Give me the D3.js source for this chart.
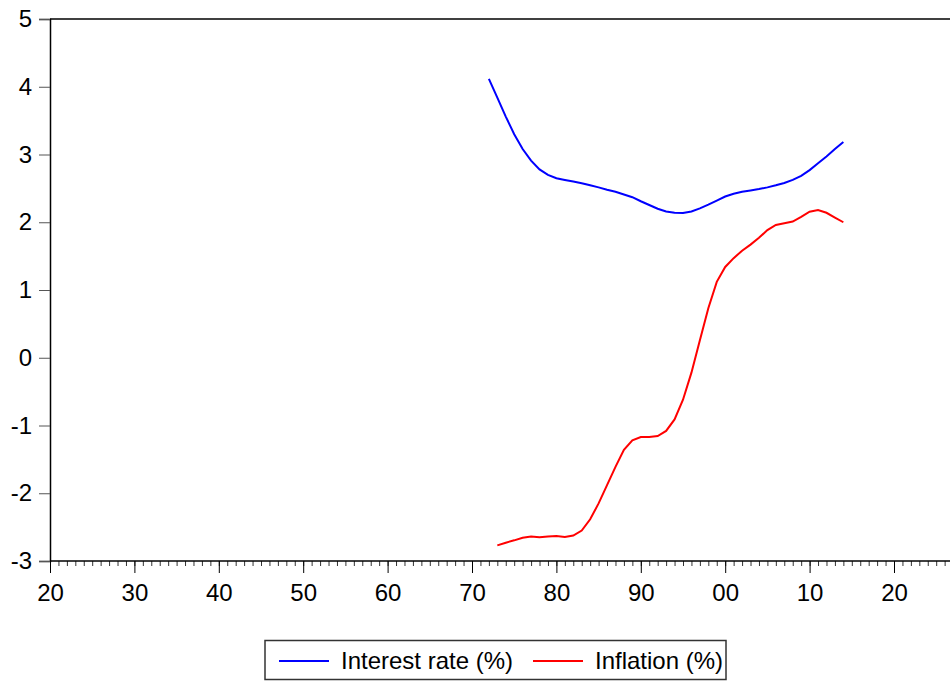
<!DOCTYPE html>
<html><head><meta charset="utf-8">
<script src="https://cdn.jsdelivr.net/npm/d3@7"></script>
<style>body{margin:0;background:#fff}svg{display:block}text{font-family:"Liberation Sans",Arial,sans-serif}</style>
</head><body>
<script>
const rateYears = d3.range(1972, 2015);
const rateValues = [4.115,3.84,3.56,3.30,3.08,2.91,2.78,2.70,2.65,2.625,2.60,2.575,2.545,2.515,2.48,2.45,2.41,2.37,2.31,2.255,2.20,2.16,2.14,2.135,2.16,2.205,2.26,2.32,2.38,2.42,2.45,2.47,2.49,2.515,2.545,2.58,2.625,2.685,2.77,2.87,2.97,3.08,3.185];
const inflYears = d3.range(1973, 2015);
const inflValues = [-2.77,-2.73,-2.695,-2.656,-2.64,-2.65,-2.64,-2.63,-2.645,-2.625,-2.55,-2.385,-2.15,-1.88,-1.61,-1.36,-1.22,-1.17,-1.17,-1.155,-1.08,-0.91,-0.62,-0.22,0.26,0.73,1.12,1.34,1.47,1.58,1.67,1.77,1.885,1.96,1.985,2.01,2.08,2.155,2.18,2.14,2.07,2.0];
const yTicks = [-3,-2,-1,0,1,2,3,4,5];
const xTicks = [1920,1930,1940,1950,1960,1970,1980,1990,2000,2010,2020];
const seriesNames = ["Interest rate (%)","Inflation (%)"];
const seriesColors = ["#0000ff","#ff0000"];

const W=950,H=682;
const L=50,T=19,B=561,R=950;
const svg=d3.select("body").append("svg").attr("width",W).attr("height",H);
const x=d3.scaleLinear().domain([1920,1920+(R-L)/8.44]).range([L,R]);
const y=d3.scaleLinear().domain([-3,5]).range([B,T]);

// frame
svg.append("line").attr("x1",L).attr("x2",R).attr("y1",T).attr("y2",T).attr("stroke","#000").attr("stroke-width",1.5);

// y axis
const ya=svg.append("g").attr("transform",`translate(${L},0)`).call(d3.axisLeft(y).tickValues(yTicks).tickSize(11).tickPadding(7).tickFormat(d=>String(d)));
ya.select(".domain").attr("stroke","#000").attr("stroke-width",1.5);
ya.selectAll(".tick line").attr("stroke","#555");
ya.selectAll("text").attr("font-size",24).attr("fill","#000").attr("font-family","Liberation Sans, Arial, sans-serif");

// x axis minor
const minor=d3.range(1920,2027);
const xm=svg.append("g").attr("transform",`translate(0,${B})`).call(d3.axisBottom(x).tickValues(minor).tickSize(5).tickFormat(""));
xm.select(".domain").remove();
xm.selectAll(".tick line").attr("stroke","#333");
const xa=svg.append("g").attr("transform",`translate(0,${B})`).call(d3.axisBottom(x).tickValues(xTicks).tickSize(12).tickPadding(11).tickFormat(d=>d3.format("02d")(d%100)));
xa.select(".domain").attr("stroke","#000").attr("stroke-width",1.5).attr("d",`M${L},0H${R}`);
xa.selectAll(".tick line").attr("stroke","#000");
xa.selectAll("text").attr("font-size",24).attr("fill","#000").attr("font-family","Liberation Sans, Arial, sans-serif");

// lines
const line=d3.line().x(d=>x(d[0])).y(d=>y(d[1]));
svg.append("path").datum(rateYears.map((d,i)=>[d,rateValues[i]])).attr("d",line).attr("fill","none").attr("stroke",seriesColors[0]).attr("stroke-width",2);
svg.append("path").datum(inflYears.map((d,i)=>[d,inflValues[i]])).attr("d",line).attr("fill","none").attr("stroke",seriesColors[1]).attr("stroke-width",2);

// legend
const lg=svg.append("g");
lg.append("rect").attr("x",265).attr("y",640.5).attr("width",461).attr("height",39).attr("fill","#fff").attr("stroke","#333").attr("stroke-width",1.5);
const lx=[279,533];
seriesNames.forEach((n,i)=>{
  lg.append("line").attr("x1",lx[i]).attr("x2",lx[i]+50).attr("y1",661).attr("y2",661).attr("stroke",seriesColors[i]).attr("stroke-width",2);
  lg.append("text").attr("x",lx[i]+62).attr("y",668.5).attr("font-size",24).attr("fill","#000").text(n);
});
</script>
</body></html>
